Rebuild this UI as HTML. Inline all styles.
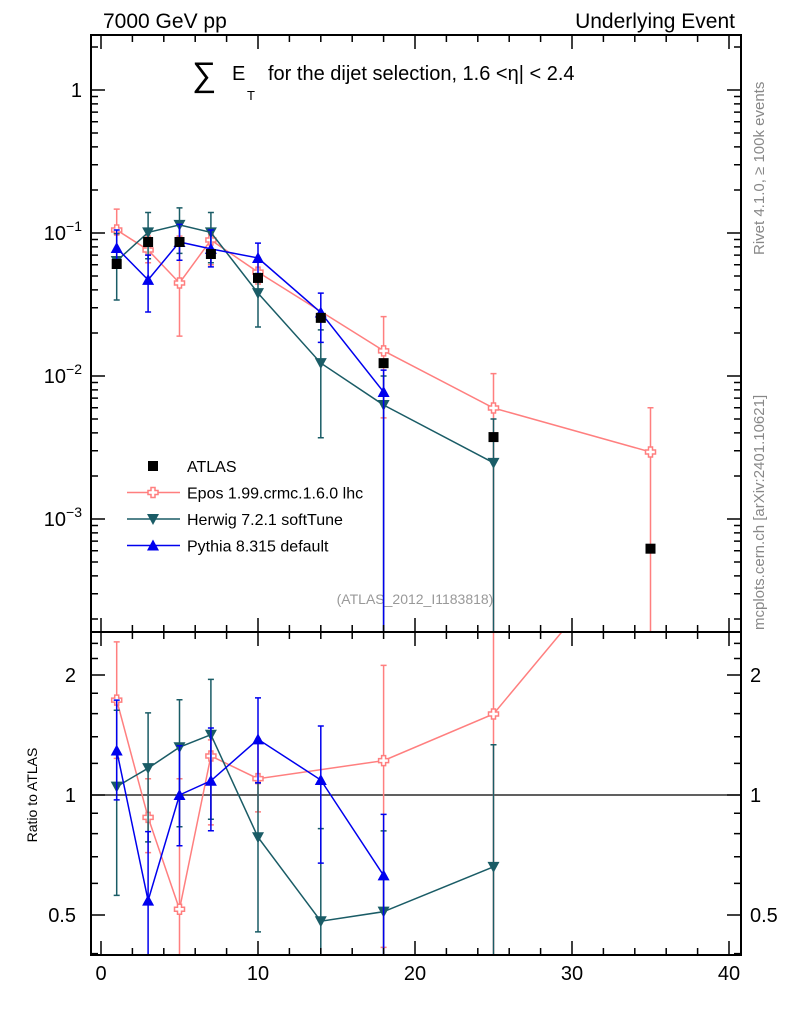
<!DOCTYPE html>
<html><head><meta charset="utf-8"><style>
html,body{margin:0;padding:0;background:#fff;overflow:hidden;width:786px;height:1024px}
svg{display:block}
svg text{font-family:"Liberation Sans","DejaVu Sans",sans-serif}
</style></head><body>
<svg id="c" width="786" height="1024" xmlns="http://www.w3.org/2000/svg">
<text x="103" y="28" font-size="21">7000 GeV pp</text>
<text x="735" y="28" font-size="21" text-anchor="end">Underlying Event</text>
<g>
<text x="192" y="86" font-size="34">∑</text>
<text x="232" y="80" font-size="20">E</text>
<text x="247" y="100" font-size="13">T</text>
<text x="268" y="80" font-size="20">for the dijet selection, 1.6 &lt;η| &lt; 2.4</text>
</g>
<text transform="translate(764,255) rotate(-90)" font-size="15" fill="#888">Rivet 4.1.0, ≥ 100k events</text>
<text transform="translate(764,630) rotate(-90)" font-size="15" fill="#888">mcplots.cern.ch [arXiv:2401.10621]</text>
<text x="415" y="604" font-size="14" fill="#999" text-anchor="middle">(ATLAS_2012_I1183818)</text>
<text transform="translate(37,795) rotate(-90)" font-size="14" text-anchor="middle">Ratio to ATLAS</text>
<g id="main"></g><g id="ratio"></g><g id="axes"></g><g id="legend"></g>
</svg>
<script>
const xs=[1,3,5,7,10,14,18,25,35];
const atlas=[0.0607,0.0865,0.0865,0.0713,0.0485,0.0255,0.0123,0.00374,0.00062];
const eposX=[1,3,5,7,10,18,25,35];
const eposY=[0.105,0.076,0.0447,0.0893,0.0533,0.0150,0.00597,0.00294];
const eposHi=[0.147,0.095,0.095,0.098,0.067,0.026,0.0104,0.0060];
const eposLo=[0.075,0.062,0.019,0.060,0.044,0.0051,0.0001,0.0001];
const herX=[1,3,5,7,10,14,18,25];
const herY=[0.0637,0.101,0.114,0.101,0.038,0.0123,0.00627,0.00247];
const herHi=[0.099,0.139,0.15,0.139,0.052,0.021,0.010,0.005];
const herLo=[0.034,0.066,0.072,0.062,0.022,0.0037,0.0001,0.0001];
const pyX=[1,3,5,7,10,14,18];
const pyY=[0.0785,0.047,0.0865,0.0774,0.0669,0.0278,0.00773];
const pyHi=[0.105,0.070,0.115,0.105,0.085,0.038,0.0110];
const pyLo=[0.059,0.028,0.0645,0.058,0.052,0.0172,0.0001];
const yTicks=[1,0.1,0.01,0.001];
const xTicks=[0,10,20,30,40];
const rTicks=[0.5,1,2];

const NS="http://www.w3.org/2000/svg";
const L=91,R=741,T=35,MB=632,RB=955;
const X=v=>101+v*15.7;
const Y=v=>{const l=Math.log10(Math.max(v,1e-6));return Math.min(MB+3,Math.max(T-3,90-l*143));};
const RY=v=>{const l=Math.log2(Math.max(v,1e-6));return Math.min(RB+3,Math.max(400,795-l*120));};
function el(p,t,a){const e=document.createElementNS(NS,t);for(const k in a)e.setAttribute(k,a[k]);p.appendChild(e);return e;}
const main=document.getElementById('main'),ratio=document.getElementById('ratio'),axes=document.getElementById('axes'),leg=document.getElementById('legend');

function marker(g,type,x,y,col){
  let m;
  if(type==='sq'){m=el(g,'rect',{x:x-5,y:y-5,width:10,height:10,fill:'#000'});}
  else if(type==='cross'){m=el(g,'path',{d:`M${x-2} ${y-5}h4v3h3v4h-3v3h-4v-3h-3v-4h3z`,fill:'#fff',stroke:col,'stroke-width':1.5});}
  else if(type==='down'){m=el(g,'path',{d:`M${x-6} ${y-5}L${x+6} ${y-5}L${x} ${y+6}Z`,fill:col});}
  else {m=el(g,'path',{d:`M${x-6} ${y+5}L${x+6} ${y+5}L${x} ${y-6}Z`,fill:col});}
  return m;
}
function series(name,sx,ys,hi,lo,col,type,isRatio){
  const g=el(isRatio?ratio:main,'g',{});
  
  
  const Yf=isRatio?RY:Y;
  const top=isRatio?MB:T;
  const ref=i=>atlas[xs.indexOf(sx[i])];
  const val=i=>isRatio?ys[i]/ref(i):ys[i];
  const vh=i=>isRatio?hi[i]/ref(i):hi[i];
  const vl=i=>isRatio?lo[i]/ref(i):lo[i];
  let d='';
  ys.forEach((v,i)=>{d+=(i?'L':'M')+X(sx[i]).toFixed(1)+' '+Yf(val(i)).toFixed(1);});
  const ln=el(g,'path',{d:d,fill:'none',stroke:col,'stroke-width':1.5});
  
  
  ys.forEach((v,i)=>{
    const x=X(sx[i]);
    if(Yf(val(i))<top)return;
    const eb=el(g,'path',{d:`M${x} ${Yf(vh(i))}V${Yf(vl(i))}M${x-3} ${Yf(vh(i))}h6M${x-3} ${Yf(vl(i))}h6`,stroke:col,'stroke-width':1.5,fill:'none'});
    
    
    const m=marker(g,type,x,Yf(val(i)),col);
    
    
  });
}
const defs=el(document.getElementById('c'),'defs',{});
const cp1=el(defs,'clipPath',{id:'cm'});el(cp1,'rect',{x:L,y:T,width:R-L,height:MB-T});
const cp2=el(defs,'clipPath',{id:'cr'});el(cp2,'rect',{x:L,y:MB,width:R-L,height:RB-MB});
main.setAttribute('clip-path','url(#cm)');ratio.setAttribute('clip-path','url(#cr)');
series('epos',eposX,eposY,eposHi,eposLo,'#ff7f7f','cross',false);
series('herwig',herX,herY,herHi,herLo,'#1a5c66','down',false);
series('pythia',pyX,pyY,pyHi,pyLo,'#0000ee','up',false);
atlas.forEach((v,i)=>{const m=marker(main,'sq',X(xs[i]),Y(v),'#000');

});
const one=el(ratio,'line',{x1:L,x2:R,y1:RY(1),y2:RY(1),stroke:'#000','stroke-width':1.2});


series('epos',eposX,eposY,eposHi,eposLo,'#ff7f7f','cross',true);
series('herwig',herX,herY,herHi,herLo,'#1a5c66','down',true);
series('pythia',pyX,pyY,pyHi,pyLo,'#0000ee','up',true);

const f1=el(axes,'rect',{x:L,y:T,width:R-L,height:MB-T,fill:'none',stroke:'#000','stroke-width':2});

const f2=el(axes,'rect',{x:L,y:MB,width:R-L,height:RB-MB,fill:'none',stroke:'#000','stroke-width':2});

for(let e=-4;e<=0;e++)for(let k=1;k<10;k++){const v=k*Math.pow(10,e);const y=Y(v);if(y<=T||y>=MB)continue;
 const len=k===1?14:7;el(axes,'path',{d:`M${L} ${y}h${len}M${R} ${y}h${-len}`,stroke:'#000','stroke-width':1.5});}
yTicks.forEach(v=>{const y=Y(v);const t=el(axes,'text',{x:82,y:y+7,'font-size':20,'text-anchor':'end'});
 const e=Math.round(Math.log10(v));
 if(e===0)t.textContent='1';else{t.textContent='10';const s=el(t,'tspan',{dy:-9,'font-size':14});s.textContent='−'+(-e);}
 });
[0.4,0.5,0.6,0.7,0.8,0.9,1,1.2,1.4,1.6,1.8,2,2.2,2.4].forEach(v=>{const y=RY(v);if(y<=MB||y>=RB)return;
 const len=rTicks.includes(v)?14:7;el(axes,'path',{d:`M${L} ${y}h${len}M${R} ${y}h${-len}`,stroke:'#000','stroke-width':1.5});});
rTicks.forEach(v=>{const y=RY(v);
 const t=el(axes,'text',{x:76,y:y+7,'font-size':20,'text-anchor':'end'});t.textContent=String(v);
 
 const t2=el(axes,'text',{x:750,y:y+7,'font-size':20});t2.textContent=String(v);
 });
for(let v=0;v<=40;v+=2){const x=X(v);const len=v%10===0?14:7;
 el(axes,'path',{d:`M${x} ${RB}v${-len}M${x} ${T}v${len}M${x} ${MB}v${-len}M${x} ${MB}v${len}`,stroke:'#000','stroke-width':1.5});}
xTicks.forEach(v=>{const t=el(axes,'text',{x:X(v),y:980,'font-size':20,'text-anchor':'middle'});t.textContent=String(v);
 });
const items=[['ATLAS','#000','sq'],['Epos 1.99.crmc.1.6.0 lhc','#ff7f7f','cross'],['Herwig 7.2.1 softTune','#1a5c66','down'],['Pythia 8.315 default','#0000ee','up']];
items.forEach((it,i)=>{const y=466+i*26.5;const g=el(leg,'g',{});
 
 
 if(i>0)el(g,'line',{x1:127,x2:180,y1:y,y2:y,stroke:it[1],'stroke-width':1.5});
 marker(g,it[2],153,y,it[1]);
 const t=el(g,'text',{x:187,y:y+6,'font-size':16});t.textContent=it[0];});
</script>
</body></html>
